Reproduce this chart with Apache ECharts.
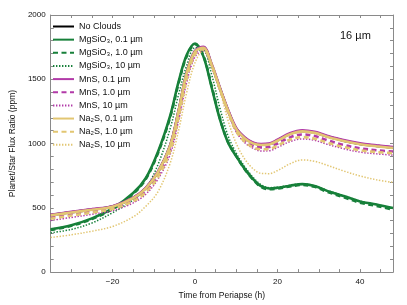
<!DOCTYPE html>
<html><head><meta charset="utf-8">
<script src="https://cdn.jsdelivr.net/npm/echarts@6/dist/echarts.min.js"></script>
<style>html,body{margin:0;padding:0;background:#fff}#c{width:407px;height:305px}</style>
</head><body><div id="c"></div>
<script>
const time = [-35,-30,-25,-20,-15,-12,-9,-6,-4,-2,0,2,4,6,8,10,12,14,16,18,20,23,26,29,32,36,40,44,48];
const noClouds   = [443,466,487,510,577,652,778,988,1252,1552,1718,1748,1615,1432,1258,1115,1046,1005,992,996,1025,1075,1098,1086,1056,1022,997,982,968];
const mgsio3_01  = [333,365,418,495,615,728,935,1220,1480,1690,1778,1680,1440,1192,1008,900,805,726,668,650,656,672,684,670,632,592,550,526,498];
const mgsio3_10  = [328,360,413,490,609,720,925,1208,1468,1680,1772,1685,1450,1200,1012,902,803,722,663,645,650,666,678,663,625,583,540,515,485];
const mgsio3_100 = [305,332,382,462,562,650,835,1120,1380,1610,1745,1735,1540,1280,1060,925,822,740,680,657,660,676,686,672,636,596,552,526,496];
const mns_01     = [446,469,490,512,579,654,781,990,1254,1554,1721,1752,1620,1437,1263,1120,1050,1009,996,1000,1030,1080,1103,1091,1061,1027,1002,987,973];
const mns_10     = [430,452,474,498,560,630,752,955,1215,1515,1700,1738,1612,1425,1248,1100,1025,983,970,973,1000,1048,1071,1058,1027,990,963,948,938];
const mns_100    = [402,425,450,478,538,604,722,918,1175,1478,1675,1720,1608,1420,1240,1090,1008,965,942,944,970,1015,1036,1025,995,960,933,920,910];
const na2s_01    = [441,464,485,508,575,650,775,985,1250,1550,1715,1745,1612,1430,1255,1112,1042,1001,989,993,1022,1072,1095,1083,1053,1019,994,979,965];
const na2s_10    = [415,440,463,490,552,620,740,945,1205,1510,1695,1736,1610,1425,1244,1095,1015,972,955,958,984,1030,1050,1038,1008,974,948,934,925];
const na2s_100   = [269,290,318,355,430,510,625,850,1100,1400,1630,1722,1630,1420,1180,1000,882,806,768,766,790,842,873,862,832,787,748,718,698];

const xTicks = [-20,0,20,40];
const yTicks = [0,500,1000,1500,2000];

const GREEN='#17803a', PURPLE='#b23aa8', TAN='#e2c672', BLACK='#000';
const zip = a => time.map((t,i)=>[t,a[i]]);
function S(name, arr, color, type, width){
  return {name, type:'line', data:zip(arr), smooth:0.35, symbol:'none', showSymbol:false, xAxisIndex:0, yAxisIndex:0,
    lineStyle:{color, type, width}, itemStyle:{color}, emphasis:{disabled:true}};
}
const solidW=2.6, dashW=2.6, dotW=1.5;
const DASH=[5,3.5], DOT=[1.4,1.6];
const series=[
  S('No Clouds', noClouds, BLACK, 'solid', solidW),
  S('MgSiO₃, 0.1 µm', mgsio3_01, GREEN, 'solid', solidW),
  S('MgSiO₃, 1.0 µm', mgsio3_10, GREEN, DASH, dashW),
  S('MgSiO₃, 10 µm', mgsio3_100, GREEN, DOT, dotW),
  S('MnS, 0.1 µm', mns_01, PURPLE, 'solid', solidW),
  S('MnS, 1.0 µm', mns_10, PURPLE, DASH, dashW),
  S('MnS, 10 µm', mns_100, PURPLE, DOT, dotW),
  S('Na₂S, 0.1 µm', na2s_01, TAN, 'solid', solidW),
  S('Na₂S, 1.0 µm', na2s_10, TAN, DASH, dashW),
  S('Na₂S, 10 µm', na2s_100, TAN, DOT, dotW),
];
const FONT='Liberation Sans';
const axCol='#8a8a8a';
const chart=echarts.init(document.getElementById('c'),null,{renderer:'canvas'});
chart.setOption({
  animation:false,
  textStyle:{fontFamily:FONT},
  grid:{left:44,right:14,top:15,bottom:30},
  title:{text:'16 µm',left:335,top:25,textStyle:{fontFamily:FONT,fontSize:11,fontWeight:'normal',color:'#111'}},
  legend:{orient:'vertical',left:52,top:22,padding:0,itemWidth:21,itemHeight:9,itemGap:4.15,
    itemStyle:{opacity:0,borderWidth:0},
    data:series.map(s=>s.name),
    textStyle:{fontFamily:FONT,fontSize:9,color:'#111'}, selectedMode:false},
  xAxis:[
    {type:'value',position:'bottom',min:-35,max:48,interval:5,
     name:'Time from Periapse (h)',nameLocation:'middle',nameGap:16,
     nameTextStyle:{fontFamily:FONT,fontSize:8.5,color:'#111'},
     axisLine:{show:true,onZero:false,lineStyle:{color:axCol,width:1}},
     axisTick:{show:true,inside:true,length:3,lineStyle:{color:axCol}},
     axisLabel:{fontFamily:FONT,fontSize:8,color:'#111',margin:6,
       formatter:v=>xTicks.includes(v)?String(v).replace('-','\u2212'):''},
     splitLine:{show:false}},
    {type:'value',position:'top',min:-35,max:48,interval:5,
     axisLine:{show:true,onZero:false,lineStyle:{color:axCol,width:1}},
     axisTick:{show:true,inside:true,length:3,lineStyle:{color:axCol}},
     axisLabel:{show:false},splitLine:{show:false}}
  ],
  yAxis:[
    {type:'value',position:'left',min:0,max:2000,interval:100,
     name:'Planet/Star Flux Ratio (ppm)',nameLocation:'middle',nameGap:30,
     nameTextStyle:{fontFamily:FONT,fontSize:8.5,color:'#111'},
     axisLine:{show:true,onZero:false,lineStyle:{color:axCol,width:1}},
     axisTick:{show:true,inside:true,length:3,lineStyle:{color:axCol}},
     axisLabel:{fontFamily:FONT,fontSize:8,color:'#111',margin:5,
       formatter:v=>yTicks.includes(v)?String(v):''},
     splitLine:{show:false}},
    {type:'value',position:'right',min:0,max:2000,interval:100,
     axisLine:{show:true,onZero:false,lineStyle:{color:axCol,width:1}},
     axisTick:{show:true,inside:true,length:3,lineStyle:{color:axCol}},
     axisLabel:{show:false},splitLine:{show:false}}
  ],
  series
});
</script></body></html>
